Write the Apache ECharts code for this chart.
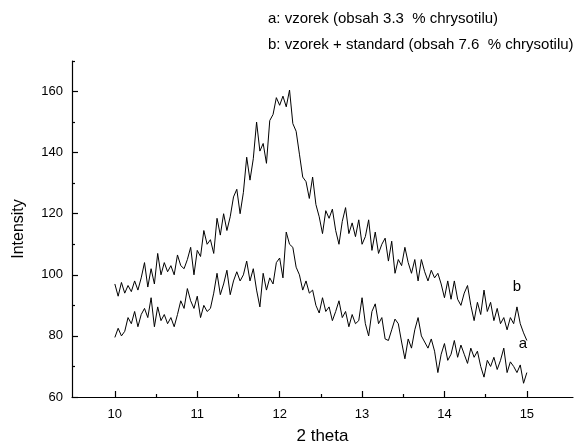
<!DOCTYPE html>
<html>
<head>
<meta charset="utf-8">
<script src="https://cdn.jsdelivr.net/npm/echarts@6/dist/echarts.min.js"></script>
<style>html,body{margin:0;padding:0;background:#fff}#c{width:575px;height:445px}</style>
</head>
<body>
<div id="c"></div>
<script>
// 2 theta grid: start 10.00, step 0.04
const xStart = 10.0;
const xStep = 0.04;

// series b: vzorek + standard (one row per unit of 2 theta, 25 values each)
const seriesB = [
  97, 93, 97.5, 94, 96.5, 94.5, 98, 95, 99, 104, 96, 102, 97, 107, 100, 104, 101, 103, 100, 106.5, 103, 102, 105, 109, 100,
  108, 106, 114.5, 110, 111.5, 107, 118.5, 113, 120, 114.5, 119, 125.5, 128, 120, 127, 138.5, 131, 138, 150, 140.5, 143, 136.5, 150.5, 152.5, 158,
  155.5, 158.5, 155, 160.5, 149.5, 147, 139.5, 132, 130.5, 125, 132, 123, 119, 113.5, 121, 118.5, 121.5, 114.5, 110, 117.5, 122, 113.5, 117, 112.5, 118,
  110, 112.5, 118, 108, 114, 107, 110, 112, 104.5, 111, 100.5, 105, 103, 109, 104, 100.5, 105, 98, 105, 101, 98, 101.5, 99, 100.5, 97,
  92.5, 98, 92, 98, 92, 90, 94, 96.5, 90, 85, 91, 87, 95, 88, 91, 85, 89, 84, 86, 82, 86, 84, 89.5, 84, 81,
  78.5
];

// series a: vzorek
const seriesA = [
  79.5, 82.5, 80, 81.5, 86, 84, 88, 83, 87, 89, 86, 92.5, 83, 89.5, 85, 87, 84, 86, 83, 87, 91.5, 89, 95.5, 91.5, 89,
  93, 86, 90, 88, 89, 94, 100.5, 93.5, 97, 101.5, 93.5, 98, 101, 98, 100, 104.5, 98, 102, 95, 89.5, 100.5, 95, 99, 97, 104,
  105.5, 99, 114, 110, 109, 102.5, 100, 95, 98, 94, 95, 90, 87.5, 92.5, 88, 89.5, 85, 88, 91.5, 86, 88, 83, 87, 84, 85,
  92.5, 84, 80, 88, 90.5, 84, 86, 79, 78.5, 82, 85.5, 84, 78, 72.5, 79, 76, 82, 86, 80, 78, 76, 79, 75, 68, 74,
  77.5, 72, 74, 78.5, 73, 77, 74, 71, 76, 73, 75, 70, 66.5, 72, 70, 73, 69, 72, 76, 68, 71.5, 70, 68, 70.5, 64.5,
  68
];

const xTicks = [10, 11, 12, 13, 14, 15];
const xMinorTicks = [10.5, 11.5, 12.5, 13.5, 14.5];
const yTicks = [60, 80, 100, 120, 140, 160];
const yMinorTicks = [70, 90, 110, 130, 150, 170];

const titleLines = ['a: vzorek (obsah 3.3  % chrysotilu)', 'b: vzorek + standard (obsah 7.6  % chrysotilu)'];

const toPairs = arr => arr.map((v, i) => [+(xStart + i * xStep).toFixed(2), v]);

const FONT = '"Liberation Sans", Arial, sans-serif';
const axisLineStyle = { color: '#000', width: 1.2 };

const chart = echarts.init(document.getElementById('c'), null, { renderer: 'canvas' });
chart.setOption({
  animation: false,
  backgroundColor: '#fff',
  title: {
    text: titleLines.join('\n'),
    left: 263, top: 1,
    textStyle: { fontFamily: FONT, fontSize: 15, fontWeight: 'normal', color: '#000', lineHeight: 26 }
  },
  grid: { left: 72, right: 2, top: 61, bottom: 48, containLabel: false, outerBoundsMode: 'none' },
  xAxis: [
    {
      type: 'value', min: 9.48, max: 15.56, position: 'bottom', offset: 0,
      axisLine: { show: true, lineStyle: axisLineStyle },
      axisTick: { show: true, inside: true, length: 6, customValues: xTicks, lineStyle: axisLineStyle },
      axisLabel: { customValues: xTicks, color: '#000', fontFamily: FONT, fontSize: 13, margin: 11 },
      splitLine: { show: false },
      name: '2 theta', nameLocation: 'middle', nameGap: 31,
      nameTextStyle: { fontFamily: FONT, fontSize: 17, color: '#000' }
    },
    {
      type: 'value', min: 9.48, max: 15.56, position: 'bottom', offset: 0,
      axisLine: { show: false },
      axisTick: { show: true, inside: true, length: 3, customValues: xMinorTicks, lineStyle: axisLineStyle },
      axisLabel: { show: false },
      splitLine: { show: false }
    }
  ],
  yAxis: [
    {
      type: 'value', min: 60, max: 170, position: 'left', offset: 0,
      axisLine: { show: true, lineStyle: axisLineStyle },
      axisTick: { show: true, inside: true, length: 6, customValues: yTicks, lineStyle: axisLineStyle },
      axisLabel: { customValues: yTicks, color: '#000', fontFamily: FONT, fontSize: 13, margin: 9 },
      splitLine: { show: false },
      name: 'Intensity', nameLocation: 'middle', nameGap: 45, nameRotate: 90,
      nameTextStyle: { fontFamily: FONT, fontSize: 16, color: '#000' }
    },
    {
      type: 'value', min: 60, max: 170, position: 'left', offset: 0,
      axisLine: { show: false },
      axisTick: { show: true, inside: true, length: 3, customValues: yMinorTicks, lineStyle: axisLineStyle },
      axisLabel: { show: false },
      splitLine: { show: false }
    }
  ],
  series: [
    {
      name: 'b', type: 'line', xAxisIndex: 0, yAxisIndex: 0, data: toPairs(seriesB),
      showSymbol: false, symbol: 'none', lineStyle: { color: '#000', width: 1 }, itemStyle: { color: '#000' },
      endLabel: { show: true, formatter: 'b', color: '#000', fontFamily: FONT, fontSize: 15, offset: [-22, -54] }
    },
    {
      name: 'a', type: 'line', xAxisIndex: 0, yAxisIndex: 0, data: toPairs(seriesA),
      showSymbol: false, symbol: 'none', lineStyle: { color: '#000', width: 1 }, itemStyle: { color: '#000' },
      endLabel: { show: true, formatter: 'a', color: '#000', fontFamily: FONT, fontSize: 15, offset: [-16, -29] }
    }
  ]
});
</script>
</body>
</html>
